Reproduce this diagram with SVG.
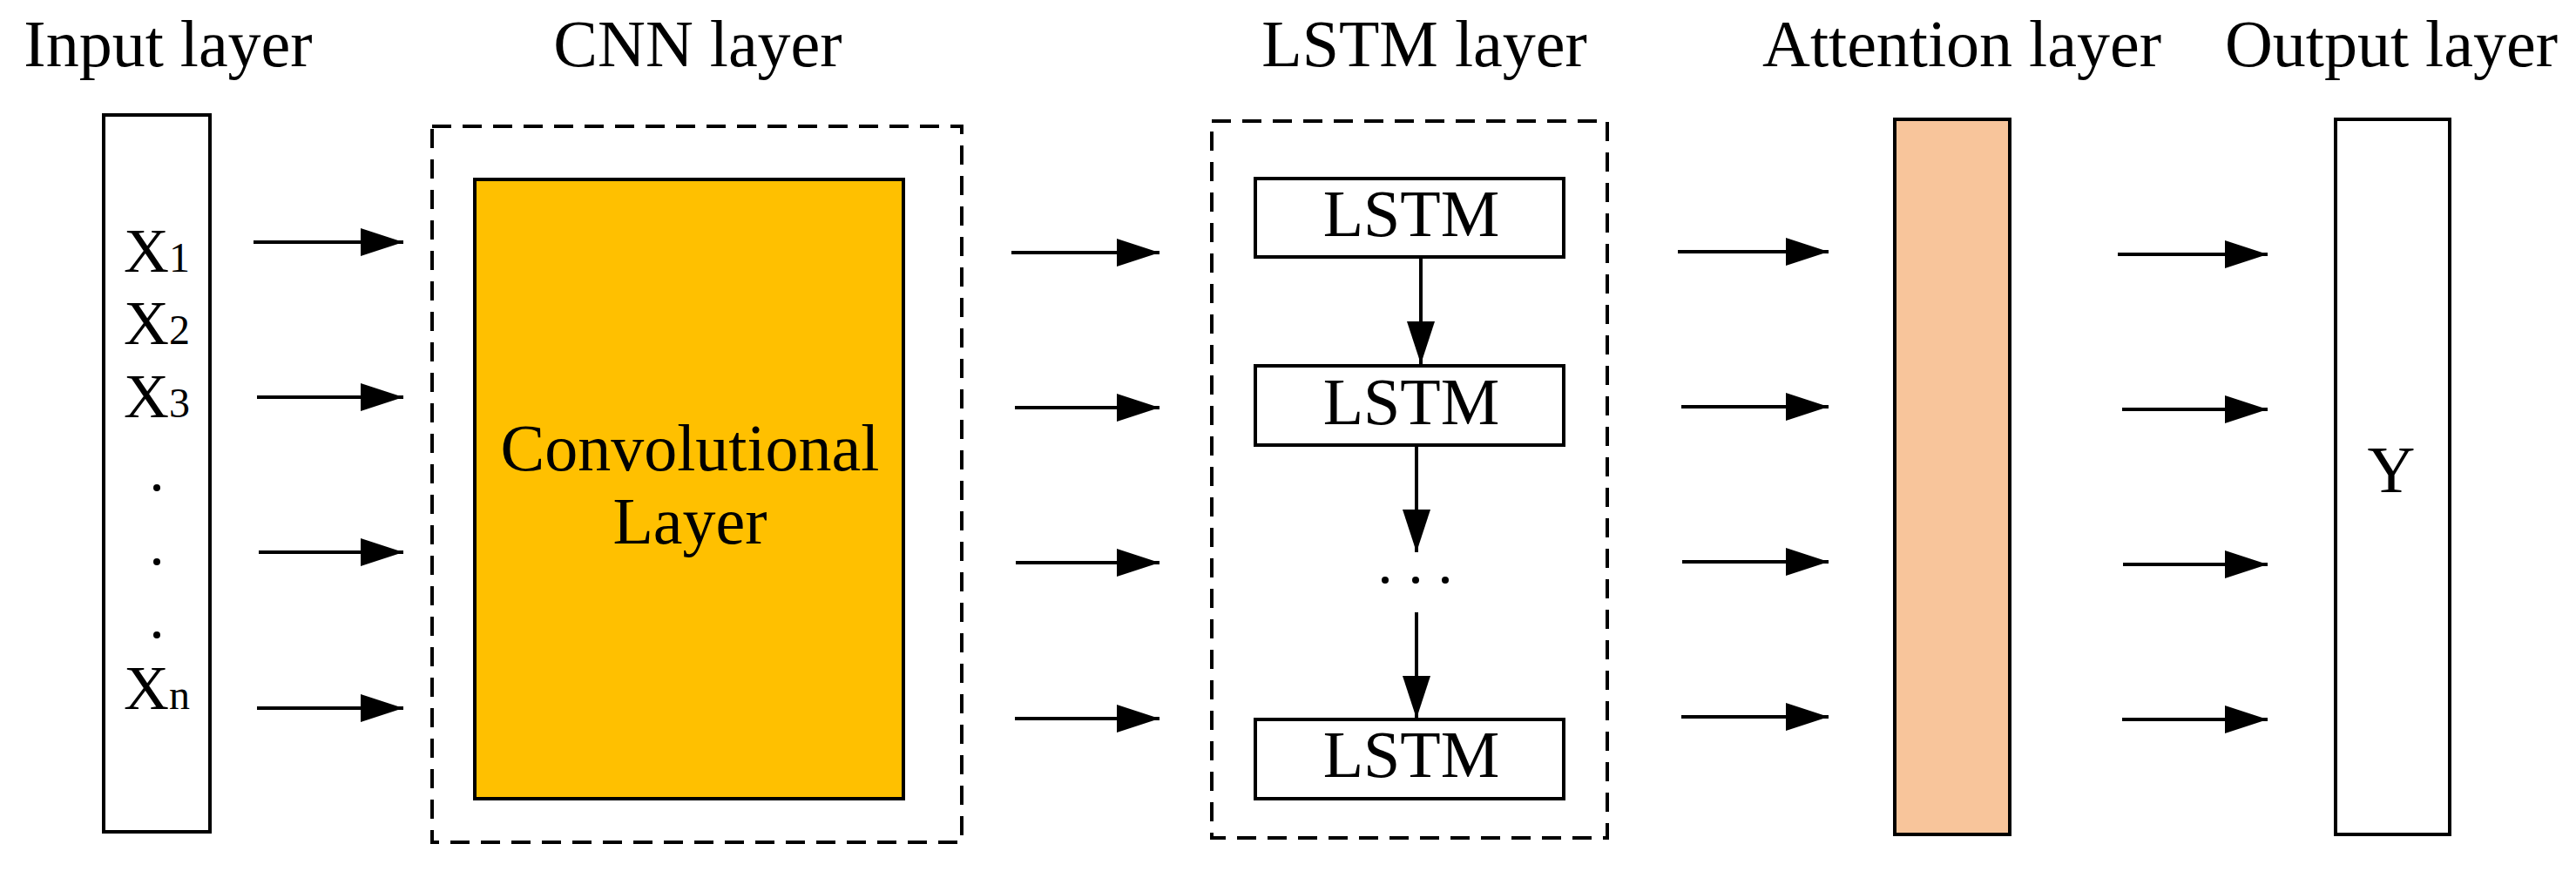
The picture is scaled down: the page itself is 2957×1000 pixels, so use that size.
<svg xmlns="http://www.w3.org/2000/svg" width="2957" height="1000" viewBox="0 0 2957 1000">
<style>
text{font-family:"Liberation Serif","DejaVu Serif",serif;fill:#000}
.t{font-size:76px;text-anchor:middle}
.box{fill:#fff;stroke:#000;stroke-width:4}
.dash{fill:none;stroke:#000;stroke-width:4;stroke-dasharray:22 13}
.c line{stroke:#000;stroke-width:4;marker-end:url(#ah)}
.x{font-size:72px;text-anchor:middle}
.s{font-size:48px}
</style>
<defs>
<marker id="ah" markerUnits="userSpaceOnUse" markerWidth="50" markerHeight="34" refX="49" refY="16" orient="auto"><path d="M0,0L49,16L0,32Z" fill="#000"/></marker>
</defs>
<g id="titles">
<text class="t" x="193" y="76">Input layer</text>
<text class="t" x="801" y="76">CNN layer</text>
<text class="t" x="1635" y="76">LSTM layer</text>
<text class="t" x="2252" y="76">Attention layer</text>
<text class="t" x="2745" y="76">Output layer</text>
</g>
<g id="input">
<rect class="box" x="119" y="132" width="122" height="823"/>
<text class="x" x="180" y="312">X<tspan class="s">1</tspan></text>
<text class="x" x="180" y="395">X<tspan class="s">2</tspan></text>
<text class="x" x="180" y="479">X<tspan class="s">3</tspan></text>
<circle cx="180" cy="560" r="4"/><circle cx="180" cy="645" r="4"/><circle cx="180" cy="729" r="4"/>
<text class="x" x="180" y="814">X<tspan class="s">n</tspan></text>
</g>
<g id="cnn">
<rect class="dash" x="496" y="145" width="608" height="822"/>
<rect x="545" y="206" width="492" height="711" fill="#FFC000" stroke="#000" stroke-width="4"/>
<text class="t" x="792" y="540">Convolutional</text>
<text class="t" x="792" y="624">Layer</text>
</g>
<g id="lstm">
<rect class="dash" x="1391" y="139" width="454" height="823"/>
<rect class="box" x="1441" y="205" width="354" height="90"/>
<text class="t" x="1620" y="271">LSTM</text>
<rect class="box" x="1441" y="420" width="354" height="91"/>
<text class="t" x="1620" y="487">LSTM</text>
<circle cx="1590" cy="666" r="4"/><circle cx="1625" cy="666" r="4"/><circle cx="1659" cy="666" r="4"/>
<rect class="box" x="1441" y="826" width="354" height="91"/>
<text class="t" x="1620" y="892">LSTM</text>
</g>
<g id="attention">
<rect x="2175" y="137" width="132" height="821" fill="#F8C59B" stroke="#000" stroke-width="4"/>
</g>
<g id="output">
<rect class="box" x="2681" y="137" width="131" height="821"/>
<text class="t" x="2745" y="565">Y</text>
</g>
<g id="connectors" class="c">
<line x1="291" y1="278" x2="463" y2="278"/>
<line x1="295" y1="456" x2="463" y2="456"/>
<line x1="297" y1="634" x2="463" y2="634"/>
<line x1="295" y1="813" x2="463" y2="813"/>
<line x1="1161" y1="290" x2="1331" y2="290"/>
<line x1="1165" y1="468" x2="1331" y2="468"/>
<line x1="1166" y1="646" x2="1331" y2="646"/>
<line x1="1165" y1="825" x2="1331" y2="825"/>
<line x1="1631" y1="295" x2="1631" y2="418"/>
<line x1="1626" y1="511" x2="1626" y2="634"/>
<line x1="1626" y1="703" x2="1626" y2="825"/>
<line x1="1926" y1="289" x2="2099" y2="289"/>
<line x1="1930" y1="467" x2="2099" y2="467"/>
<line x1="1931" y1="645" x2="2099" y2="645"/>
<line x1="1930" y1="823" x2="2099" y2="823"/>
<line x1="2431" y1="292" x2="2603" y2="292"/>
<line x1="2436" y1="470" x2="2603" y2="470"/>
<line x1="2437" y1="648" x2="2603" y2="648"/>
<line x1="2436" y1="826" x2="2603" y2="826"/>
</g>
</svg>
